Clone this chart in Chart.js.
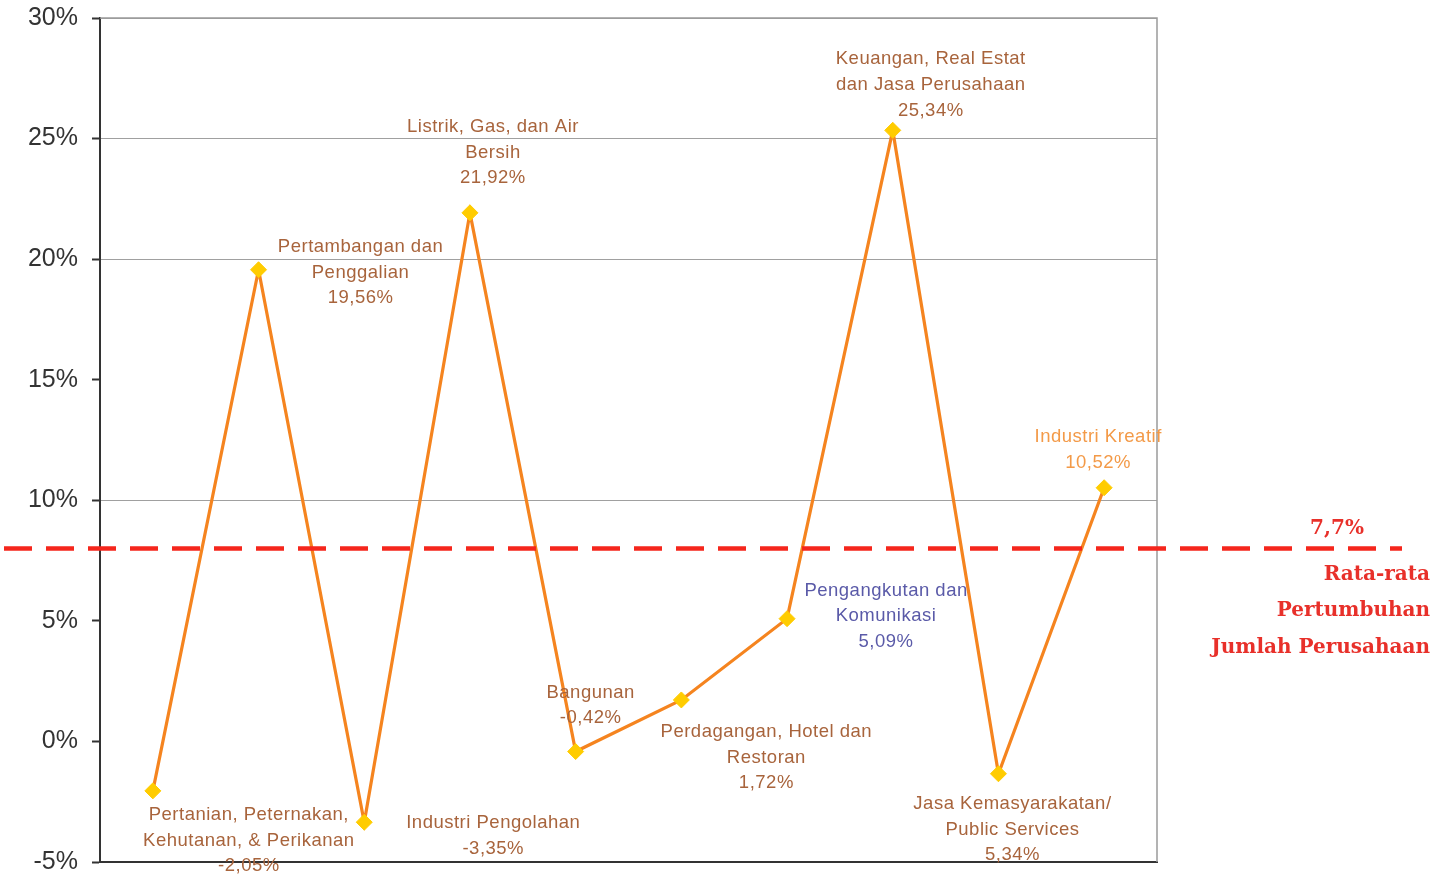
<!DOCTYPE html>
<html>
<head>
<meta charset="utf-8">
<script src="https://cdn.jsdelivr.net/npm/chart.js@4/dist/chart.umd.min.js"></script>
<style>
  html, body { margin: 0; padding: 0; background: #ffffff; }
  .wrap { width: 1437px; height: 877px; }
</style>
</head>
<body>
<div class="wrap"><canvas id="growthChart" width="1437" height="877"></canvas></div>
<script>
// sektor usaha
const categories = [
  ['Pertanian, Peternakan,', 'Kehutanan, & Perikanan', '-2,05%'],
  ['Pertambangan dan', 'Penggalian', '19,56%'],
  ['Industri Pengolahan', '-3,35%'],
  ['Listrik, Gas, dan Air', 'Bersih', '21,92%'],
  ['Bangunan', '-0,42%'],
  ['Perdagangan, Hotel dan', 'Restoran', '1,72%'],
  ['Pengangkutan dan', 'Komunikasi', '5,09%'],
  ['Keuangan, Real Estat', 'dan Jasa Perusahaan', '25,34%'],
  ['Jasa Kemasyarakatan/', 'Public Services', '5,34%'],
  ['Industri Kreatif', '10,52%']
]
const growth = [-2.05, 19.56, -3.35, 21.92, -0.42, 1.72, 5.09, 25.34, -1.34, 10.52]
const yTicks = [-5, 0, 5, 10, 15, 20, 25, 30]
const avgValue = 8.0
const avgText = ['7,7%', 'Rata-rata', 'Pertumbuhan', 'Jumlah Perusahaan']

// label placement relative to each point (px)
const labelOffsets = [[96, 24], [102, -23], [129, 1], [23, -86], [15, -59], [85, 32], [99, -28], [38, -71], [14, 30], [-6, -51]]
const labelColors = ['#a8643c', '#a8643c', '#a8643c', '#a8643c', '#a8643c', '#a8643c', '#5a5aa8', '#a8643c', '#a8643c', '#f39a48']

const labelsPlugin = {
  id: 'pointLabels',
  afterDatasetsDraw(chart) {
    const ctx = chart.ctx
    const meta = chart.getDatasetMeta(0)
    ctx.save()
    ctx.font = '18.5px "Liberation Sans", Arial, sans-serif'
    ctx.letterSpacing = '0.5px'
    ctx.textAlign = 'center'
    ctx.textBaseline = 'middle'
    meta.data.forEach((pt, i) => {
      ctx.fillStyle = labelColors[i]
      categories[i].forEach((line, j) => {
        ctx.fillText(line, pt.x + labelOffsets[i][0], pt.y + labelOffsets[i][1] + j * 25.7)
      })
    })
    ctx.restore()
  }
}

const frameAndAvgPlugin = {
  id: 'frameAvg',
  beforeDatasetsDraw(chart) {
    const {ctx, chartArea} = chart
    ctx.save()
    ctx.strokeStyle = '#9a9a9a'
    ctx.lineWidth = 1.5
    ctx.beginPath()
    ctx.moveTo(chartArea.left, chartArea.top)
    ctx.lineTo(chartArea.right, chartArea.top)
    ctx.lineTo(chartArea.right, chartArea.bottom)
    ctx.stroke()
    ctx.restore()
  },
  afterDraw(chart) {
    const ctx = chart.ctx
    const y = chart.scales.y.getPixelForValue(avgValue)
    ctx.save()
    ctx.strokeStyle = '#f5261c'
    ctx.lineWidth = 4.5
    ctx.setLineDash([28, 14])
    ctx.beginPath()
    ctx.moveTo(4, y)
    ctx.lineTo(1402, y)
    ctx.stroke()
    ctx.setLineDash([])
    ctx.fillStyle = '#e8302a'
    ctx.font = 'bold 20px "DejaVu Serif", serif'
    ctx.textBaseline = 'middle'
    ctx.textAlign = 'center'
    ctx.fillText(avgText[0], 1337, y - 20)
    ctx.textAlign = 'right'
    ctx.fillText(avgText[1], 1430, y + 26)
    ctx.fillText(avgText[2], 1430, y + 62)
    ctx.fillText(avgText[3], 1430, y + 99)
    ctx.restore()
  }
}

const hiddenGrid = [15, 5, 0, -5]

new Chart(document.getElementById('growthChart'), {
  type: 'line',
  data: {
    labels: categories.map(c => c.slice(0, -1).join(' ')),
    datasets: [{
      data: growth,
      borderColor: '#f5841f',
      borderWidth: 3.2,
      tension: 0,
      pointStyle: 'rectRot',
      pointRadius: 8,
      pointBackgroundColor: '#ffcc00',
      pointBorderColor: '#ffcc00',
      pointBorderWidth: 1,
      clip: false
    }]
  },
  options: {
    responsive: false,
    animation: false,
    events: [],
    layout: { padding: { left: 0, top: 18, right: 280, bottom: 15 } },
    plugins: { legend: { display: false }, tooltip: { enabled: false } },
    scales: {
      x: {
        offset: true,
        ticks: { display: false },
        grid: { display: true, color: 'rgba(0,0,0,0)', drawTicks: false },
        border: { display: true, color: '#333333', width: 2 },
        afterFit: s => { s.height = 0; s.paddingLeft = 0; s.paddingRight = 0 }
      },
      y: {
        min: -5,
        max: 30,
        afterBuildTicks: s => { s.ticks = yTicks.map(v => ({value: v})) },
        ticks: {
          padding: 14,
          color: '#333333',
          font: { family: '"Liberation Sans", Arial, sans-serif', size: 25 },
          callback: v => v + '%'
        },
        grid: {
          color: c => hiddenGrid.includes(c.tick && c.tick.value) ? 'rgba(0,0,0,0)' : '#a0a0a0',
          lineWidth: 1,
          tickLength: 8,
          tickColor: '#333333',
          tickWidth: 2
        },
        border: { display: true, color: '#333333', width: 2 },
        afterFit: s => { s.width = 100; s.paddingTop = 0; s.paddingBottom = 0 }
      }
    }
  },
  plugins: [frameAndAvgPlugin, labelsPlugin]
})
</script>
</body>
</html>
